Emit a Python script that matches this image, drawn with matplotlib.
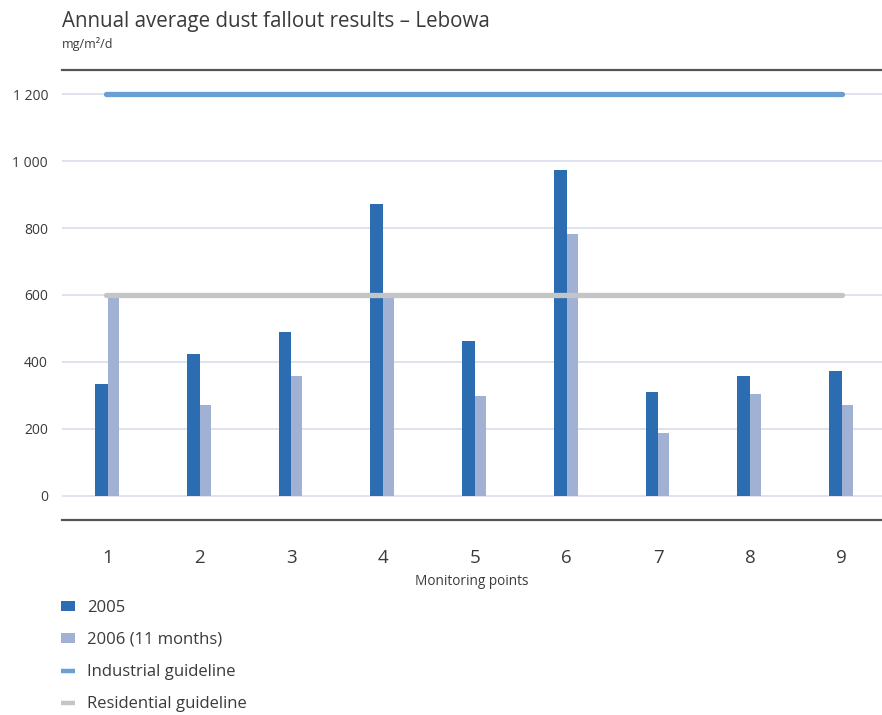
import matplotlib
matplotlib.use("Agg")
import matplotlib.pyplot as plt
from matplotlib.lines import Line2D
from matplotlib.patches import Patch
from matplotlib.ticker import FuncFormatter
import numpy as np

points = ["1", "2", "3", "4", "5", "6", "7", "8", "9"]
v2005 = [333, 423, 490, 872, 463, 972, 310, 357, 374]
v2006 = [590, 272, 357, 590, 299, 782, 187, 304, 272]
industrial = 1200
residential = 600
yticks = [0, 200, 400, 600, 800, 1000, 1200]

c2005 = "#2b6db0"
c2006 = "#a1b1d4"
cind = "#6a9fd4"
cres = "#c3c5c7"
cgrid = "#d8deec"
ctext = "#3a3a3a"

plt.rcParams['font.family'] = ['Open Sans', 'DejaVu Sans']

fig = plt.figure(figsize=(8.82, 7.15), dpi=100)
W, H = 882, 715
ax = fig.add_axes([62 / W, 1 - 520 / H, (882 - 62) / W, (520 - 70) / H])

x = np.arange(1, len(points) + 1)
ax.bar(x, v2005, width=-0.138, align='edge', color=c2005, lw=0, zorder=2)
ax.bar(x, v2006, width=0.12, align='edge', color=c2006, lw=0, zorder=2)
ax.plot([x[0] - 0.02, x[-1]], [industrial, industrial], color=cind, lw=3.8,
        solid_capstyle='round', zorder=3)
ax.plot([x[0] - 0.02, x[-1]], [residential, residential], color=cres, lw=3.8,
        solid_capstyle='round', zorder=3)

ax.set_xlim(0.498, 9.44)
ax.set_ylim(-72, 1272)
ax.set_yticks(yticks)
ax.yaxis.set_major_formatter(FuncFormatter(lambda v, p: f"{int(v):,}".replace(",", " ")))
ax.set_xticks(x)
ax.set_xticklabels(points)
ax.grid(axis='y', color=cgrid, lw=1.2, zorder=0)
ax.set_axisbelow(True)
for s in ['left', 'right']:
    ax.spines[s].set_visible(False)
for s in ['top', 'bottom']:
    ax.spines[s].set_color("#555555")
    ax.spines[s].set_linewidth(1.6)
ax.tick_params(axis='y', length=0, pad=10, labelsize=10, labelcolor=ctext)
ax.tick_params(axis='x', length=0, pad=21, labelsize=13.5, labelcolor=ctext)
ax.set_xlabel("Monitoring points", fontsize=9.8, color=ctext, labelpad=5)

fig.text(62 / W, 1 - 21 / H, "Annual average dust fallout results – Lebowa",
         fontsize=14.8, color=ctext, va='center', ha='left')
fig.text(62 / W, 1 - 44 / H, "mg/m²/d", fontsize=9, color=ctext, va='center', ha='left')

handles = [
    Patch(color=c2005, lw=0),
    Patch(color=c2006, lw=0),
    Line2D([], [], color=cind, lw=3.2, solid_capstyle='butt'),
    Line2D([], [], color=cres, lw=3.2, solid_capstyle='butt'),
]
labels = ["2005", "2006 (11 months)", "Industrial guideline", "Residential guideline"]
leg = fig.legend(handles, labels, loc='upper left', bbox_to_anchor=(46 / W, 1 - 585 / H),
                 frameon=False, fontsize=12, handlelength=0.84, handleheight=0.48,
                 handletextpad=0.72, labelspacing=0.96, labelcolor=ctext)

fig.savefig("out.png", dpi=100, facecolor="white")
